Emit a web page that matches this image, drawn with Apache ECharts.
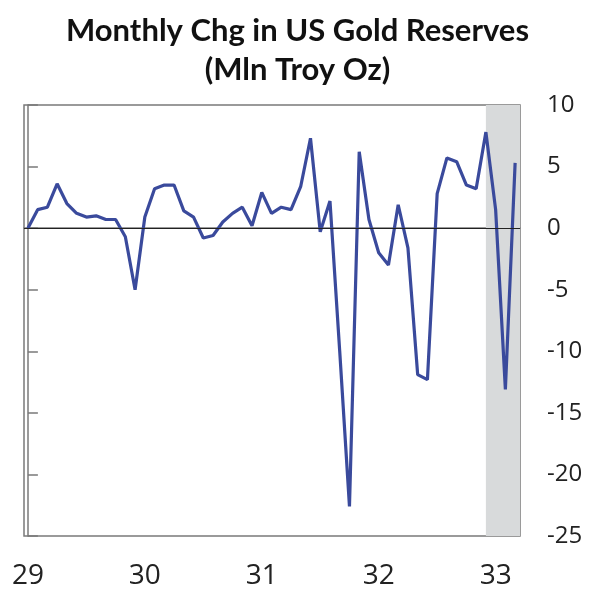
<!DOCTYPE html>
<html>
<head>
<meta charset="utf-8">
<script src="https://cdn.jsdelivr.net/npm/echarts@6.0.0/dist/echarts.min.js"></script>
<style>
  html, body { margin: 0; padding: 0; background: #fff; }
  #chart { width: 595px; height: 590px; }
</style>
</head>
<body>
<div id="chart"></div>
<script>
// monthly change, Jan 1929 .. Mar 1933 (month index 0 = Jan 1929)
const goldChange = [
  0, 1.5, 1.7, 3.6, 2.0, 1.2, 0.9, 1.0, 0.7, 0.7, -0.7, -5.0,
  0.9, 3.2, 3.5, 3.5, 1.4, 0.9, -0.8, -0.6, 0.5, 1.2, 1.7, 0.2,
  2.9, 1.2, 1.7, 1.5, 3.4, 7.3, -0.3, 2.2, -10.0, -22.6, 6.2, 0.7,
  -2.0, -3.0, 1.9, -1.6, -11.9, -12.3, 2.8, 5.7, 5.4, 3.5, 3.2, 7.8,
  1.5, -13.1, 5.3,
];
const yearTicks = [0, 12, 24, 36, 48];
const yearLabels = ["29", "30", "31", "32", "33"];
const shadeStart = 47; // Dec 1932

const seriesData = goldChange.map((v, i) => [i, v]);

const chart = echarts.init(document.getElementById("chart"), null, { renderer: "canvas" });

chart.setOption({
  animation: false,
  backgroundColor: "#fff",
  title: {
    text: "Monthly Chg in US Gold Reserves\n(Mln Troy Oz)",
    left: "center",
    top: 6,
    textStyle: {
      fontFamily: "Lato",
      fontWeight: "bold",
      fontSize: 31,
      lineHeight: 39,
      color: "#111",
    },
  },
  grid: {
    left: 24,
    right: 75,
    top: 105,
    bottom: 53,
    show: true,
    borderColor: "#7a7a7a",
    borderWidth: 1.5,
  },
  xAxis: {
    type: "value",
    min: -0.4,
    max: 50.5,
    axisLine: { show: true, lineStyle: { color: "#7a7a7a", width: 1.5 } },
    axisTick: { show: false },
    splitLine: { show: false },
    axisLabel: {
      customValues: yearTicks,
      formatter: (v) => yearLabels[yearTicks.indexOf(Math.round(v))] ?? "",
      margin: 26,
      fontFamily: "Open Sans",
      fontSize: 28,
      color: "#222",
    },
  },
  yAxis: {
    type: "value",
    position: "right",
    min: -25,
    max: 10,
    interval: 5,
    axisLine: { show: true, lineStyle: { color: "#7a7a7a", width: 1.5 } },
    axisTick: { show: true, length: 10, lineStyle: { color: "#7a7a7a", width: 1.5 } },
    splitLine: { show: false },
    axisLabel: {
      margin: 27,
      fontFamily: "Open Sans",
      fontSize: 24,
      color: "#222",
    },
  },
  series: [
    {
      type: "line",
      data: seriesData,
      symbol: "none",
      lineStyle: { color: "#3a4a9c", width: 3.2 },
      z: 3,
      markLine: {
        silent: true,
        symbol: "none",
        label: { show: false },
        lineStyle: { color: "#222", width: 1.2, type: "solid" },
        data: [{ yAxis: 0 }],
      },
      markArea: {
        silent: true,
        itemStyle: { color: "#d8dadb" },
        data: [[{ xAxis: shadeStart }, { xAxis: 50.5 }]],
      },
    },
  ],
});
</script>
</body>
</html>
